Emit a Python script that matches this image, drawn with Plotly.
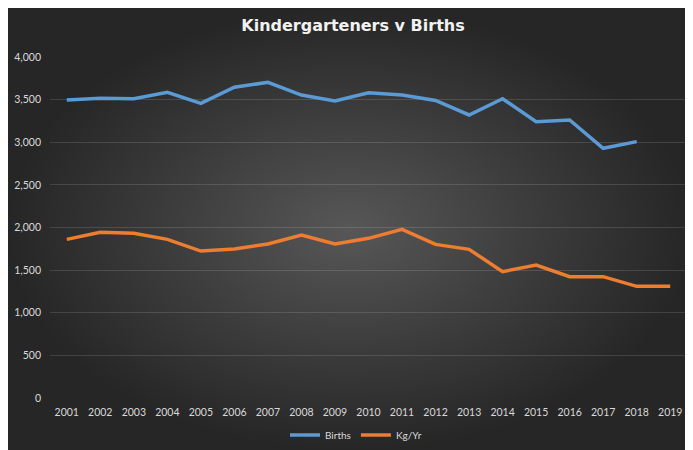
import numpy as np
import plotly.graph_objects as go

years = [str(y) for y in range(2001, 2020)]
births = [3495, 3515, 3510, 3585, 3457, 3645, 3703, 3554, 3484, 3581,
          3554, 3490, 3320, 3511, 3241, 3261, 2929, 3007, None]
kg_yr = [1861, 1944, 1932, 1861, 1724, 1748, 1806, 1912, 1806, 1873,
         1979, 1802, 1744, 1482, 1560, 1423, 1423, 1310, 1310]

BLUE = "#5b9bd5"
ORANGE = "#ed7d31"
LABEL = "#d9d9d9"
EDGE = "#262626"

# the page keeps its 8px body margin, so the figure is drawn 8px smaller
# and every position below is given as (screen pixel - 8)
OFF = 8
W, H = 693 - OFF, 450 - OFF


def px(x):
    return (x - OFF) / W


def py(y):
    return 1 - (y - OFF) / H


# radial background (lighter in the middle, dark at the edges);
# the grid runs a bit past the axis range so the picture fills the box
gx = np.linspace(-1.1, 1.1, 89)
gy = np.linspace(-1.1, 1.1, 67)
gxx, gyy = np.meshgrid(gx, gy)
shade = np.clip(np.sqrt(gxx ** 2 + gyy ** 2), 0, 1)

fig = go.Figure()
fig.add_trace(go.Heatmap(
    z=shade, x=gx, y=gy, zsmooth="best", showscale=False,
    colorscale=[[0, "#575757"], [0.5, "#3e3e3e"], [1, EDGE]],
    hoverinfo="skip", xaxis="x", yaxis="y",
))

fig.add_trace(go.Scatter(
    x=years, y=births, name="Births", mode="lines",
    line=dict(color=BLUE, width=3.5), xaxis="x2", yaxis="y2",
))
fig.add_trace(go.Scatter(
    x=years, y=kg_yr, name="Kg/Yr", mode="lines",
    line=dict(color=ORANGE, width=3.5), xaxis="x2", yaxis="y2",
))

# thin white strip on the right of the dark box
fig.add_shape(type="rect", xref="paper", yref="paper",
              x0=px(691), y0=0, x1=1, y1=1,
              fillcolor="white", line_width=0, layer="below")

fig.update_layout(
    width=W, height=H,
    margin=dict(l=0, r=0, t=0, b=0, autoexpand=False),
    paper_bgcolor=EDGE,
    plot_bgcolor="rgba(0,0,0,0)",
    font=dict(family="Lato, Calibri, sans-serif", color=LABEL, size=10.5),
    xaxis=dict(domain=[0, px(691)], range=[-1, 1], visible=False, fixedrange=True),
    yaxis=dict(domain=[0, py(9)], range=[-1, 1], visible=False, fixedrange=True),
    xaxis2=dict(
        domain=[px(50), px(687)], anchor="y2", type="category",
        range=[-0.5, 18.5], showgrid=False, showline=False, zeroline=False,
        ticks="", ticklabelstandoff=6, tickfont=dict(color=LABEL, size=10.5),
    ),
    yaxis2=dict(
        domain=[py(398), py(57)], anchor="x2", range=[0, 4000],
        dtick=500, tickformat=",", showgrid=True,
        gridcolor="rgba(255,255,255,0.13)", gridwidth=1, zeroline=False,
        showline=False, ticks="", ticklabelstandoff=8,
        tickfont=dict(color=LABEL, size=10.5),
    ),
    title=dict(
        text="<b>Kindergarteners v Births</b>", x=px(353), xanchor="center",
        y=py(25), yanchor="middle",
        font=dict(family="DejaVu Sans, sans-serif", size=16, color="#f2f2f2"),
    ),
    legend=dict(
        orientation="h", x=px(356), xanchor="center", y=py(435),
        yanchor="middle", bgcolor="rgba(0,0,0,0)",
        font=dict(color=LABEL, size=10), itemwidth=30,
    ),
    showlegend=True,
)

fig.write_html("out.html", config={"displayModeBar": False})
